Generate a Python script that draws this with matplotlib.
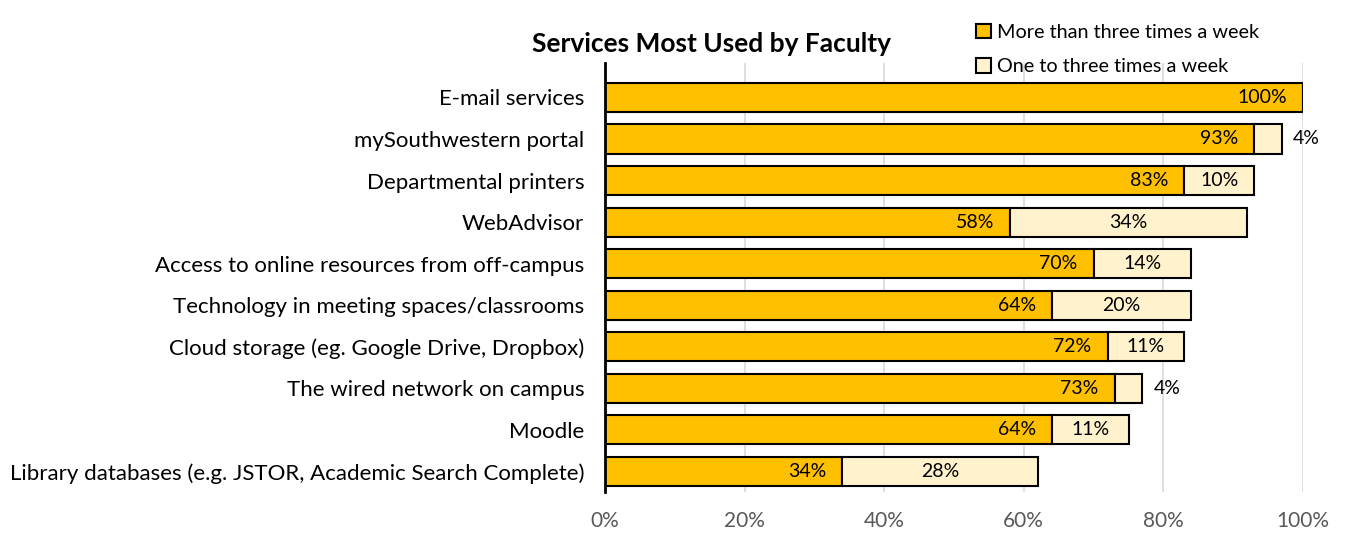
import matplotlib
matplotlib.use("Agg")
import matplotlib.pyplot as plt
from matplotlib.ticker import PercentFormatter
from matplotlib.patches import Patch

plt.rcParams['font.family'] = ['Lato', 'DejaVu Sans']

categories = [
    "E-mail services",
    "mySouthwestern portal",
    "Departmental printers",
    "WebAdvisor",
    "Access to online resources from off-campus",
    "Technology in meeting spaces/classrooms",
    "Cloud storage (eg. Google Drive, Dropbox)",
    "The wired network on campus",
    "Moodle",
    "Library databases (e.g. JSTOR, Academic Search Complete)",
]
more_than_three = [100, 93, 83, 58, 70, 64, 72, 73, 64, 34]
one_to_three = [0, 4, 10, 34, 14, 20, 11, 4, 11, 28]
series_names = ["More than three times a week", "One to three times a week"]
x_ticks = [0, 20, 40, 60, 80, 100]

c1 = "#FFC000"
c2 = "#FFF2CC"

fig = plt.figure(figsize=(13.46, 5.35), dpi=100)
ax = fig.add_axes([605/1346, 1-492/535, (1303-605)/1346, (492-63)/535])

y = list(range(len(categories)))
ax.barh(y, more_than_three, height=0.7, color=c1, edgecolor="black", linewidth=1.5, zorder=3)
ax.barh(y, one_to_three, left=more_than_three, height=0.7, color=c2, edgecolor="black",
        linewidth=1.5, zorder=3)

lab_fs = 14
for i, (a, b) in enumerate(zip(more_than_three, one_to_three)):
    ax.annotate(f"{a}%", xy=(a, i), xytext=(-16, 0), textcoords="offset pixels",
                ha="right", va="center", fontsize=lab_fs, color="black", zorder=4)
    if b > 0:
        if b < 5:
            ax.annotate(f"{b}%", xy=(a + b, i), xytext=(11, 0), textcoords="offset pixels",
                        ha="left", va="center", fontsize=lab_fs, color="black", zorder=4)
        else:
            ax.text(a + b / 2, i, f"{b}%", ha="center", va="center", fontsize=lab_fs,
                    color="black", zorder=4)

ax.set_xlim(0, 100)
ax.set_ylim(9.5, -0.83)
ax.set_yticks(y)
ax.set_yticklabels(categories, fontsize=16)
ax.set_xticks(x_ticks)
ax.xaxis.set_major_formatter(PercentFormatter(decimals=0))
ax.tick_params(axis="x", length=0, labelsize=15, labelcolor="#595959", pad=14)
ax.tick_params(axis="y", length=0, pad=15)
ax.grid(axis="x", color="#D9D9D9", linewidth=1.2, zorder=0)
for s in ["top", "right", "bottom"]:
    ax.spines[s].set_visible(False)
ax.spines["left"].set_linewidth(2)
ax.spines["left"].set_color("black")
ax.spines["left"].set_zorder(5)

fig.text(711/1346, 1-44/535, "Services Most Used by Faculty", ha="center", va="center",
         fontsize=19, fontweight="bold")

handles = [Patch(facecolor=c1, edgecolor="black", linewidth=1.5),
           Patch(facecolor=c2, edgecolor="black", linewidth=1.5)]
fig.legend(handles, series_names, loc="upper left", bbox_to_anchor=(968/1346, 1-16/535),
           frameon=False, fontsize=14.3, handlelength=0.75, handleheight=0.75,
           handletextpad=0.3, labelspacing=0.85, borderaxespad=0)

fig.savefig("out.png", dpi=100)
